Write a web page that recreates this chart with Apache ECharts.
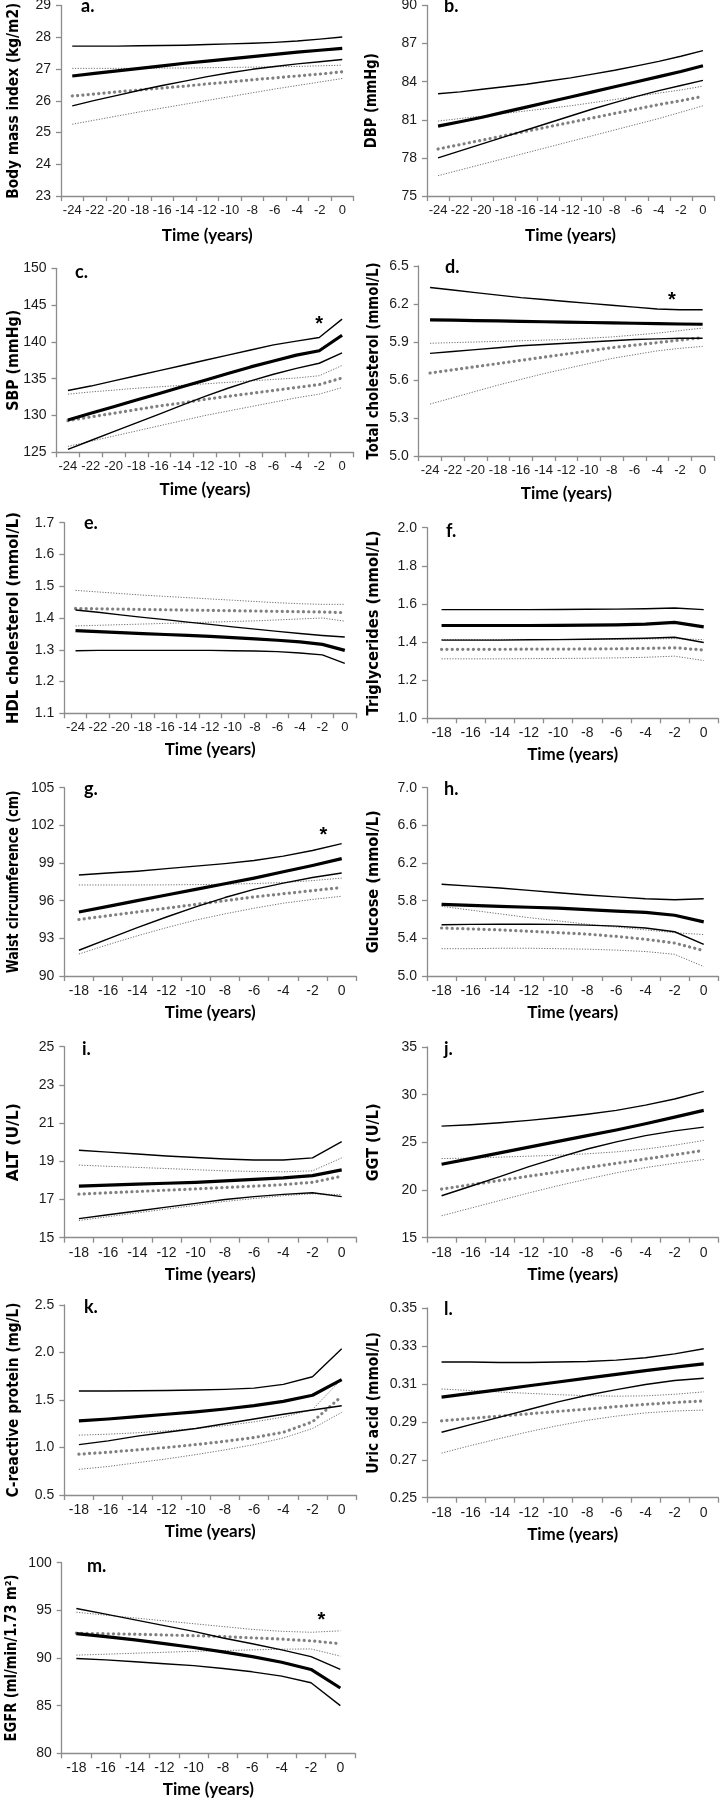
<!DOCTYPE html>
<html><head><meta charset="utf-8">
<script src="https://cdn.jsdelivr.net/npm/echarts@6/dist/echarts.min.js"></script>
<style>html,body{margin:0;padding:0;background:#fff}#c{width:720px;height:1800px}</style>
</head><body><div id="c"></div>
<script>
// ---------- categories ----------
const T24 = ['-24','-22','-20','-18','-16','-14','-12','-10','-8','-6','-4','-2','0'];
const T18 = ['-18','-16','-14','-12','-10','-8','-6','-4','-2','0'];

// ---------- y tick labels ----------
const bmiTicks = [23,24,25,26,27,28,29];
const dbpTicks = [75,78,81,84,87,90];
const sbpTicks = [125,130,135,140,145,150];
const tcTicks = [5.0,5.3,5.6,5.9,6.2,6.5];
const hdlTicks = [1.1,1.2,1.3,1.4,1.5,1.6,1.7];
const tgTicks = [1.0,1.2,1.4,1.6,1.8,2.0];
const waistTicks = [90,93,96,99,102,105];
const gluTicks = [5.0,5.4,5.8,6.2,6.6,7.0];
const altTicks = [15,17,19,21,23,25];
const ggtTicks = [15,20,25,30,35];
const crpTicks = [0.5,1.0,1.5,2.0,2.5];
const uaTicks = [0.25,0.27,0.29,0.31,0.33,0.35];
const egfrTicks = [80,85,90,95,100];

// ---------- series values ----------
// a. BMI
const bmiCaseMean = [26.78,26.86,26.94,27.02,27.10,27.18,27.25,27.32,27.39,27.46,27.53,27.59,27.65];
const bmiCaseUp   = [27.72,27.72,27.72,27.73,27.74,27.75,27.77,27.79,27.81,27.84,27.88,27.94,28.01];
const bmiCaseLo   = [25.84,26.01,26.17,26.33,26.48,26.62,26.76,26.88,26.99,27.08,27.16,27.23,27.30];
const bmiCtrlMean = [26.15,26.21,26.28,26.34,26.40,26.46,26.53,26.59,26.66,26.72,26.78,26.84,26.91];
const bmiCtrlUp   = [27.02,27.02,27.02,27.02,27.03,27.03,27.04,27.05,27.06,27.07,27.08,27.10,27.12];
const bmiCtrlLo   = [25.26,25.39,25.52,25.65,25.77,25.89,26.01,26.13,26.25,26.37,26.48,26.59,26.70];
// b. DBP
const dbpCaseMean = [80.5,80.85,81.2,81.6,82.0,82.4,82.8,83.2,83.6,84.0,84.4,84.8,85.25];
const dbpCaseUp   = [83.05,83.2,83.4,83.6,83.8,84.05,84.3,84.6,84.9,85.25,85.6,86.0,86.45];
const dbpCaseLo   = [78.0,78.55,79.1,79.65,80.2,80.75,81.3,81.85,82.35,82.85,83.3,83.7,84.1];
const dbpCtrlMean = [78.7,79.05,79.4,79.75,80.1,80.45,80.8,81.15,81.5,81.85,82.2,82.5,82.85];
const dbpCtrlUp   = [80.9,81.1,81.3,81.5,81.7,81.9,82.1,82.35,82.6,82.85,83.1,83.35,83.65];
const dbpCtrlLo   = [76.6,77.05,77.5,77.95,78.4,78.85,79.3,79.75,80.2,80.65,81.1,81.6,82.1];
// c. SBP
const sbpCaseMean = [129.4,130.3,131.2,132.1,133.0,133.9,134.8,135.7,136.6,137.4,138.2,138.8,140.9];
const sbpCaseUp   = [133.4,134.0,134.7,135.4,136.1,136.8,137.5,138.2,138.9,139.6,140.1,140.6,143.1];
const sbpCaseLo   = [125.4,126.6,127.8,129.0,130.2,131.4,132.6,133.7,134.7,135.6,136.4,137.1,138.5];
const sbpCtrlMean = [129.3,129.8,130.3,130.8,131.3,131.7,132.2,132.6,133.0,133.4,133.8,134.2,135.1];
const sbpCtrlUp   = [132.9,133.2,133.45,133.7,133.9,134.1,134.3,134.5,134.7,134.9,135.1,135.4,136.8];
const sbpCtrlLo   = [125.8,126.5,127.2,127.9,128.6,129.3,130.0,130.6,131.2,131.8,132.4,132.9,133.8];
// d. Total cholesterol
const tcCaseMean = [6.075,6.072,6.069,6.066,6.063,6.06,6.057,6.054,6.051,6.048,6.045,6.042,6.04];
const tcCaseUp   = [6.33,6.31,6.29,6.27,6.25,6.235,6.22,6.205,6.19,6.175,6.16,6.155,6.155];
const tcCaseLo   = [5.81,5.825,5.84,5.855,5.87,5.88,5.89,5.90,5.91,5.92,5.925,5.93,5.93];
const tcCtrlMean = [5.655,5.68,5.705,5.73,5.755,5.78,5.805,5.83,5.855,5.875,5.895,5.915,5.935];
const tcCtrlUp   = [5.89,5.895,5.9,5.905,5.91,5.915,5.92,5.93,5.94,5.955,5.97,5.99,6.01];
const tcCtrlLo   = [5.41,5.46,5.51,5.56,5.605,5.65,5.69,5.73,5.77,5.80,5.83,5.85,5.865];
// e. HDL cholesterol
const hdlCaseMean = [1.36,1.357,1.354,1.351,1.348,1.345,1.342,1.338,1.334,1.33,1.325,1.317,1.298];
const hdlCaseUp   = [1.425,1.418,1.41,1.402,1.395,1.387,1.38,1.372,1.365,1.358,1.351,1.345,1.34];
const hdlCaseLo   = [1.297,1.298,1.298,1.298,1.298,1.298,1.298,1.297,1.296,1.294,1.29,1.284,1.257];
const hdlCtrlMean = [1.43,1.429,1.428,1.427,1.426,1.425,1.424,1.423,1.422,1.421,1.42,1.419,1.417];
const hdlCtrlUp   = [1.487,1.482,1.477,1.472,1.468,1.464,1.46,1.456,1.452,1.448,1.445,1.443,1.443];
const hdlCtrlLo   = [1.375,1.377,1.379,1.381,1.383,1.385,1.387,1.389,1.391,1.394,1.397,1.40,1.39];
// f. Triglycerides
const tgCaseMean = [1.487,1.487,1.487,1.487,1.488,1.489,1.49,1.494,1.503,1.48];
const tgCaseUp   = [1.57,1.57,1.57,1.57,1.571,1.572,1.573,1.575,1.579,1.57];
const tgCaseLo   = [1.41,1.41,1.41,1.412,1.413,1.415,1.417,1.42,1.425,1.398];
const tgCtrlMean = [1.362,1.362,1.362,1.363,1.363,1.364,1.365,1.367,1.37,1.358];
const tgCtrlUp   = [1.413,1.413,1.413,1.414,1.414,1.415,1.415,1.416,1.418,1.413];
const tgCtrlLo   = [1.312,1.312,1.312,1.313,1.314,1.315,1.317,1.32,1.326,1.303];
// g. Waist circumference
const waistCaseMean = [95.1,95.55,96.0,96.45,96.9,97.35,97.8,98.3,98.8,99.35];
const waistCaseUp   = [98.05,98.2,98.35,98.55,98.75,98.95,99.2,99.55,100.0,100.55];
const waistCaseLo   = [92.05,92.95,93.85,94.7,95.5,96.25,96.9,97.4,97.85,98.2];
const waistCtrlMean = [94.5,94.8,95.1,95.4,95.7,96.0,96.3,96.55,96.8,97.05];
const waistCtrlUp   = [97.25,97.25,97.25,97.26,97.28,97.31,97.36,97.45,97.6,97.8];
const waistCtrlLo   = [91.75,92.5,93.2,93.85,94.45,94.95,95.4,95.8,96.1,96.35];
// h. Glucose
const gluCaseMean = [5.76,5.75,5.74,5.73,5.72,5.705,5.69,5.675,5.645,5.575];
const gluCaseUp   = [5.975,5.955,5.935,5.91,5.885,5.86,5.84,5.82,5.81,5.82];
const gluCaseLo   = [5.545,5.548,5.55,5.55,5.548,5.54,5.53,5.51,5.47,5.335];
const gluCtrlMean = [5.51,5.5,5.49,5.475,5.46,5.445,5.42,5.39,5.35,5.27];
const gluCtrlUp   = [5.74,5.70,5.66,5.62,5.585,5.55,5.52,5.49,5.46,5.44];
const gluCtrlLo   = [5.29,5.29,5.295,5.295,5.29,5.285,5.275,5.26,5.23,5.10];
// i. ALT
const altCaseMean = [17.7,17.75,17.8,17.85,17.9,17.97,18.05,18.13,18.25,18.55];
const altCaseUp   = [19.58,19.48,19.38,19.28,19.2,19.12,19.07,19.07,19.18,20.03];
const altCaseLo   = [16.0,16.2,16.4,16.6,16.8,17.0,17.15,17.27,17.35,17.15];
const altCtrlMean = [17.28,17.35,17.42,17.49,17.56,17.63,17.7,17.78,17.9,18.22];
const altCtrlUp   = [18.8,18.74,18.68,18.62,18.56,18.5,18.47,18.45,18.5,19.18];
const altCtrlLo   = [15.9,16.1,16.3,16.5,16.7,16.9,17.05,17.2,17.3,17.25];
// j. GGT
const ggtCaseMean = [22.7,23.3,23.9,24.5,25.1,25.7,26.3,26.95,27.65,28.35];
const ggtCaseUp   = [26.7,26.85,27.05,27.3,27.6,27.95,28.35,28.9,29.55,30.35];
const ggtCaseLo   = [19.4,20.4,21.4,22.45,23.4,24.3,25.05,25.7,26.2,26.6];
const ggtCtrlMean = [20.1,20.55,21.0,21.45,21.9,22.35,22.8,23.25,23.7,24.15];
const ggtCtrlUp   = [23.3,23.35,23.45,23.55,23.65,23.8,24.0,24.3,24.7,25.2];
const ggtCtrlLo   = [17.3,18.1,18.9,19.7,20.45,21.15,21.8,22.35,22.8,23.2];
// k. C-reactive protein
const crpCaseMean = [1.28,1.3,1.325,1.35,1.375,1.405,1.44,1.485,1.55,1.715];
const crpCaseUp   = [1.595,1.595,1.597,1.6,1.605,1.612,1.625,1.665,1.745,2.04];
const crpCaseLo   = [1.03,1.07,1.12,1.16,1.2,1.25,1.3,1.35,1.395,1.44];
const crpCtrlMean = [0.93,0.95,0.975,1.0,1.03,1.065,1.105,1.16,1.27,1.54];
const crpCtrlUp   = [1.13,1.14,1.155,1.175,1.2,1.23,1.27,1.32,1.4,1.72];
const crpCtrlLo   = [0.77,0.8,0.84,0.88,0.925,0.975,1.03,1.1,1.2,1.37];
// l. Uric acid
const uaCaseMean = [0.303,0.305,0.307,0.309,0.311,0.313,0.315,0.317,0.3188,0.3205];
const uaCaseUp   = [0.3215,0.3215,0.3213,0.3213,0.3215,0.3218,0.3225,0.3238,0.3258,0.3285];
const uaCaseLo   = [0.2845,0.2885,0.2925,0.2965,0.3005,0.304,0.307,0.3097,0.3118,0.313];
const uaCtrlMean = [0.2905,0.2918,0.293,0.2942,0.2955,0.2967,0.298,0.2992,0.3002,0.301];
const uaCtrlUp   = [0.3073,0.3065,0.3057,0.305,0.3043,0.3038,0.3035,0.3037,0.3045,0.3058];
const uaCtrlLo   = [0.2735,0.2775,0.2812,0.2848,0.288,0.2908,0.293,0.2947,0.2957,0.2962];
// m. EGFR
const egfrCaseMean = [92.55,92.25,91.9,91.5,91.1,90.65,90.15,89.55,88.8,86.85];
const egfrCaseUp   = [95.2,94.6,94.0,93.4,92.8,92.1,91.5,90.85,90.15,88.8];
const egfrCaseLo   = [89.95,89.8,89.6,89.4,89.2,88.9,88.55,88.1,87.4,85.0];
const egfrCtrlMean = [92.6,92.55,92.5,92.42,92.35,92.25,92.12,91.98,91.8,91.5];
const egfrCtrlUp   = [94.8,94.5,94.2,93.9,93.6,93.3,93.0,92.8,92.7,92.85];
const egfrCtrlLo   = [90.3,90.4,90.5,90.6,90.7,90.78,90.85,90.92,90.95,90.2];

// significance stars: [panel index, time, value]
const stars = [[2,-2,142.3],[3,-2.7,6.23],[6,-1.25,101.2],[12,-1.3,93.9]];

// ---------- panels ----------
const panels = [
 {letter:'a.', title:'Body mass index (kg/m2)', cats:T24, ticks:bmiTicks, dec:0, s:[bmiCaseMean,bmiCaseUp,bmiCaseLo,bmiCtrlMean,bmiCtrlUp,bmiCtrlLo]},
 {letter:'b.', title:'DBP (mmHg)', cats:T24, ticks:dbpTicks, dec:0, s:[dbpCaseMean,dbpCaseUp,dbpCaseLo,dbpCtrlMean,dbpCtrlUp,dbpCtrlLo]},
 {letter:'c.', title:'SBP (mmHg)', cats:T24, ticks:sbpTicks, dec:0, s:[sbpCaseMean,sbpCaseUp,sbpCaseLo,sbpCtrlMean,sbpCtrlUp,sbpCtrlLo]},
 {letter:'d.', title:'Total cholesterol (mmol/L)', cats:T24, ticks:tcTicks, dec:1, s:[tcCaseMean,tcCaseUp,tcCaseLo,tcCtrlMean,tcCtrlUp,tcCtrlLo]},
 {letter:'e.', title:'HDL cholesterol (mmol/L)', cats:T24, ticks:hdlTicks, dec:1, s:[hdlCaseMean,hdlCaseUp,hdlCaseLo,hdlCtrlMean,hdlCtrlUp,hdlCtrlLo]},
 {letter:'f.', title:'Triglycerides (mmol/L)', cats:T18, ticks:tgTicks, dec:1, s:[tgCaseMean,tgCaseUp,tgCaseLo,tgCtrlMean,tgCtrlUp,tgCtrlLo]},
 {letter:'g.', title:'Waist circumference (cm)', cats:T18, ticks:waistTicks, dec:0, s:[waistCaseMean,waistCaseUp,waistCaseLo,waistCtrlMean,waistCtrlUp,waistCtrlLo]},
 {letter:'h.', title:'Glucose (mmol/L)', cats:T18, ticks:gluTicks, dec:1, s:[gluCaseMean,gluCaseUp,gluCaseLo,gluCtrlMean,gluCtrlUp,gluCtrlLo]},
 {letter:'i.', title:'ALT (U/L)', cats:T18, ticks:altTicks, dec:0, s:[altCaseMean,altCaseUp,altCaseLo,altCtrlMean,altCtrlUp,altCtrlLo]},
 {letter:'j.', title:'GGT (U/L)', cats:T18, ticks:ggtTicks, dec:0, s:[ggtCaseMean,ggtCaseUp,ggtCaseLo,ggtCtrlMean,ggtCtrlUp,ggtCtrlLo]},
 {letter:'k.', title:'C-reactive protein (mg/L)', cats:T18, ticks:crpTicks, dec:1, s:[crpCaseMean,crpCaseUp,crpCaseLo,crpCtrlMean,crpCtrlUp,crpCtrlLo]},
 {letter:'l.', title:'Uric acid (mmol/L)', cats:T18, ticks:uaTicks, dec:2, s:[uaCaseMean,uaCaseUp,uaCaseLo,uaCtrlMean,uaCtrlUp,uaCtrlLo]},
 {letter:'m.', title:'EGFR (ml/min/1.73 m\u00B2)', cats:T18, ticks:egfrTicks, dec:0, s:[egfrCaseMean,egfrCaseUp,egfrCaseLo,egfrCtrlMean,egfrCtrlUp,egfrCtrlLo]}
];

// ---------- layout (pixels) ----------
const layout = [
 {l:61,   t:5.5,    w:292.5, h:190.5, yC:47, yLen:196, xGap:31, lx:89,  ly:7},
 {l:427,  t:5.5,    w:287,   h:190.5, yC:55, yLen:95,  xGap:31, lx:452, ly:7},
 {l:56.5, t:268.3,  w:297,   h:184,   yC:43, yLen:101, xGap:29, lx:83,  ly:273},
 {l:418.7,t:266,    w:295.3, h:190,   yC:45, yLen:197, xGap:29, lx:453, ly:268},
 {l:64.3, t:522.7,  w:291.7, h:190.6, yC:50, yLen:212, xGap:28, lx:92,  ly:524},
 {l:427,  t:527.7,  w:291.3, h:190.6, yC:53, yLen:185, xGap:28, lx:454, ly:532},
 {l:64.3, t:787.7,  w:292,   h:188.3, yC:50, yLen:183, xGap:28, lx:92,  ly:790},
 {l:427,  t:787.7,  w:291.3, h:188.3, yC:53, yLen:143, xGap:28, lx:452, ly:790},
 {l:64.3, t:1046.7, w:292,   h:191,   yC:50, yLen:78,  xGap:28, lx:90,  ly:1050},
 {l:427,  t:1047,   w:291.3, h:190.7, yC:53, yLen:78,  xGap:28, lx:452, ly:1050},
 {l:64.3, t:1305,   w:292,   h:190,   yC:50, yLen:195, xGap:28, lx:92,  ly:1308},
 {l:427,  t:1308,   w:291.3, h:189.7, yC:53, yLen:142, xGap:28, lx:452, ly:1310},
 {l:61.7, t:1562.7, w:293.3, h:190.6, yC:50, yLen:167, xGap:28, lx:95,  ly:1567}
];

const AX = '#8c8c8c', TXT = '#1a1a1a';
const TICKFONT = '"Liberation Sans", Arial, sans-serif';
const NAMEFONT = 'Lato, "Open Sans", sans-serif';
const YTITLEFONT = 'bold 16px "DejaVu Sans", Verdana, sans-serif';
const styles = [
 {color:'#000', width:3.2, type:'solid', z:6},          // case mean
 {color:'#000', width:1.4, type:'solid', z:5},          // case upper CI
 {color:'#000', width:1.4, type:'solid', z:5},          // case lower CI
 {color:'#808080', width:3.2, type:[0.1,5.2], cap:'round', z:4}, // control mean
 {color:'#6f6f6f', width:1, type:[1.2,1.5], z:3},       // control upper CI
 {color:'#6f6f6f', width:1, type:[1.2,1.5], z:3}        // control lower CI
];

const mctx = document.createElement('canvas').getContext('2d');
mctx.font = YTITLEFONT;

const grid=[], xAxis=[], yAxis=[], series=[], graphic=[];
panels.forEach((p,i)=>{
  const L = layout[i];
  const xfs = p.cats.length > 10 ? 13 : 14;
  grid.push({left:L.l, top:L.t, width:L.w, height:L.h, containLabel:false, outerBoundsMode:'none'});
  xAxis.push({
    gridIndex:i, type:'category', data:p.cats, boundaryGap:true,
    axisLine:{show:true, onZero:false, lineStyle:{color:AX, width:1.3}},
    axisTick:{show:true, interval:0, length:5, lineStyle:{color:AX, width:1.3}},
    axisLabel:{interval:0, margin:8, fontFamily:TICKFONT, fontSize:xfs, color:TXT},
    splitLine:{show:false},
    name:'Time (years)', nameLocation:'middle', nameGap:L.xGap,
    nameTextStyle:{fontFamily:NAMEFONT, fontWeight:'bold', fontSize:17, color:'#000'}
  });
  yAxis.push({
    gridIndex:i, type:'value', min:p.ticks[0], max:p.ticks[p.ticks.length-1],
    axisLine:{show:true, lineStyle:{color:AX, width:1.3}},
    axisTick:{show:true, length:5, customValues:p.ticks, lineStyle:{color:AX, width:1.3}},
    axisLabel:{customValues:p.ticks, margin:10, formatter:(v)=>Number(v).toFixed(p.dec),
               fontFamily:TICKFONT, fontSize:14, color:TXT},
    splitLine:{show:false}
  });
  [5,4,3,2,1,0].forEach(k=>{
    const st = styles[k];
    series.push({
      type:'line', xAxisIndex:i, yAxisIndex:i, data:p.s[k], symbol:'none', silent:true,
      z:st.z, lineStyle:{color:st.color, width:st.width, type:st.type, cap:st.cap||'butt', join:'round'},
      emphasis:{disabled:true}
    });
  });
  const tw = mctx.measureText(p.title).width || L.yLen;
  graphic.push({type:'text', x:L.l - L.yC, y:L.t + L.h/2, rotation:Math.PI/2,
    scaleX:L.yLen/tw, scaleY:1, silent:true,
    style:{text:p.title, font:YTITLEFONT, fill:'#000', align:'center', verticalAlign:'middle'}});
  graphic.push({type:'text', left:L.lx-8, top:L.ly-10, silent:true,
    style:{text:p.letter, font:'bold 18px Lato, sans-serif', fill:'#000'}});
});

const chart = echarts.init(document.getElementById('c'), null, {renderer:'canvas', width:720, height:1800});
chart.setOption({animation:false, backgroundColor:'#fff', grid, xAxis, yAxis, series, graphic});

stars.forEach(([pi, t, v])=>{
  const cats = panels[pi].cats;
  const step = Number(cats[1]) - Number(cats[0]);
  const idx = (t - Number(cats[0]))/step;
  const i0 = Math.floor(idx), i1 = Math.min(i0+1, cats.length-1), f = idx - i0;
  const p0 = chart.convertToPixel({gridIndex:pi}, [cats[i0], v]);
  const p1 = chart.convertToPixel({gridIndex:pi}, [cats[i1], v]);
  const x = p0[0] + (p1[0]-p0[0])*f, y = p0[1];
  graphic.push({type:'text', x:x, y:y, silent:true, style:{text:'*', font:'bold 20px "Liberation Sans", sans-serif', fill:'#000', align:'center', verticalAlign:'middle'}});
});
chart.setOption({graphic});
</script>
</body></html>
